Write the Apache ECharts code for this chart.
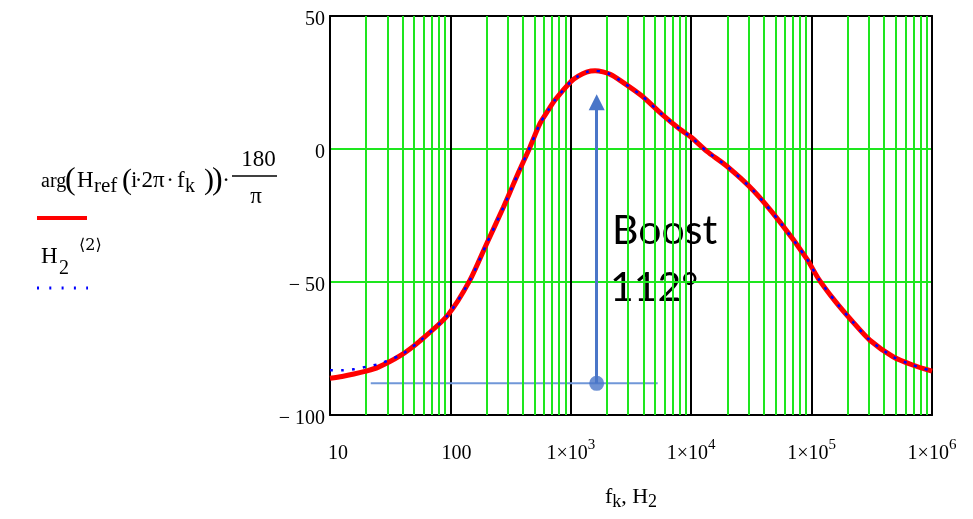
<!DOCTYPE html>
<html>
<head>
<meta charset="utf-8">
<script src="https://cdn.jsdelivr.net/npm/echarts@6/dist/echarts.min.js"></script>
<style>
  html, body { margin: 0; padding: 0; background: #fff; }
  #chart { width: 973px; height: 519px; }
</style>
</head>
<body>
<div id="chart"></div>
<script>
// frequency points (Hz)
const freqs = [10, 12.6, 15.8, 19.9, 25, 38, 56, 95, 145, 200, 275, 333, 378, 458, 555, 650, 739, 1000,
  1153, 1350, 1590, 1850, 2120, 2565, 3880, 5690, 8070, 10000, 13500, 19700, 32800, 54700, 91000, 113800,
  155000, 220000, 305000, 475000, 690000, 1000000];
// phase of H_ref in degrees
const phaseRef = [-86.2, -85.5, -84.6, -83.5, -82.1, -77.8, -72.1, -62.5, -49.4, -35.6, -22, -13.3, -7.6, 0.7, 9.6, 14.6, 18.4, 25.3,
  27.4, 28.9, 29.4, 29.0, 28.1, 25.8, 20, 13.1, 7.4, 4.4, -0.9, -6.4, -15.6, -27.5, -41.2, -48.7,
  -56.9, -65, -71.9, -78.1, -81.2, -83.5];
// H2 column 2 (dotted)
const phaseH2 = [-83.2, -83.2, -82.8, -81.9, -80.9, -77.6, -72.1, -62.5, -49.4, -35.6, -22, -13.3, -7.6, 0.7, 9.6, 14.6, 18.4, 25.3,
  27.4, 28.9, 29.4, 29.0, 28.1, 25.8, 20, 13.1, 7.4, 4.4, -0.9, -6.4, -15.6, -27.5, -41.2, -48.7,
  -56.9, -65, -71.9, -78.1, -81.2, -83.5];

// boost annotation
const boostFreq = 1640;
const boostLow = -88.1;
const boostHigh = 17.6;
const baseFrom = 21.8;
const baseTo = 5270;

// minor log grid 2..9 per decade
const decades = [10, 100, 1000, 10000, 100000];
const minorGrid = [];
decades.forEach(d => { for (let m = 2; m <= 9; m++) minorGrid.push(d * m); });

const serif = 'Liberation Serif';
const green = '#1ee61e';
const blue = '#4a76c8';

const chart = echarts.init(document.getElementById('chart'));

function t(text, x, y, size, align) {
  return {
    type: 'text', x: x, y: y,
    style: { text: text, fontFamily: serif, fontSize: size, fill: '#000', verticalAlign: 'middle', align: align || 'left' }
  };
}

const option = {
  animation: false,
  grid: { left: 330, right: 41, top: 16, bottom: 104 },
  xAxis: [{
    type: 'log', logBase: 10, min: 10, max: 1000000,
    axisLine: { show: true, onZero: false, lineStyle: { color: '#000', width: 2 } },
    axisTick: { show: false },
    splitLine: { show: true, lineStyle: { color: '#000', width: 2 } },
    axisLabel: {
      margin: 29, showMinLabel: true, showMaxLabel: true,
      fontFamily: serif, fontSize: 20, color: '#000',
      formatter: function (v) {
        const e = Math.round(Math.log10(v));
        if (e === 1) return '{c|10}';
        if (e === 2) return '{d|100}';
        return '{b|1×10}{s|' + e + '}';
      },
      rich: {
        b: { fontFamily: serif, fontSize: 20, lineHeight: 20, verticalAlign: 'bottom' },
        c: { fontFamily: serif, fontSize: 20, lineHeight: 20, verticalAlign: 'bottom', padding: [0, 0, 0, 16] },
        d: { fontFamily: serif, fontSize: 20, lineHeight: 20, verticalAlign: 'bottom', padding: [0, 0, 0, 12] },
        s: { fontFamily: serif, fontSize: 15, lineHeight: 15, padding: [0, 0, 18, 0] }
      }
    },
    name: 'f{k|k}, H{k|2}',
    nameLocation: 'middle',
    nameGap: 68,
    nameTextStyle: {
      fontFamily: serif, fontSize: 22, color: '#000',
      rich: { k: { fontFamily: serif, fontSize: 18, padding: [10, 0, 0, 0] } }
    }
  }, {
    type: 'log', logBase: 10, min: 10, max: 1000000, position: 'top',
    axisLine: { show: true, onZero: false, lineStyle: { color: '#000', width: 2 } },
    axisTick: { show: false }, axisLabel: { show: false }, splitLine: { show: false }
  }],
  yAxis: [{
    type: 'value', min: -100, max: 50, interval: 50,
    axisLine: { show: true, onZero: false, lineStyle: { color: '#000', width: 2 } },
    axisTick: { show: false },
    splitLine: { show: true, showMinLine: false, showMaxLine: false, lineStyle: { color: green, width: 2 } },
    axisLabel: {
      margin: 5, color: '#000',
      formatter: v => '{a|' + (v < 0 ? '\u2212 ' + (-v) : '' + v) + '}',
      rich: { a: { fontFamily: serif, fontSize: 20, lineHeight: 20, padding: [8, 0, 0, 0] } }
    }
  }, {
    type: 'value', min: -100, max: 50, interval: 50, position: 'right',
    axisLine: { show: true, onZero: false, lineStyle: { color: '#000', width: 2 } },
    axisTick: { show: false }, axisLabel: { show: false }, splitLine: { show: false }
  }],
  series: [
    {
      type: 'line', data: [], z: 1, silent: true,
      markLine: {
        silent: true, symbol: ['none', 'none'], label: { show: false },
        lineStyle: { color: green, width: 2, type: 'solid' },
        data: minorGrid.map(v => ({ xAxis: v }))
      }
    },
    {
      type: 'line', z: 3, silent: true,
      data: [[baseFrom, boostLow], [baseTo, boostLow]],
      showSymbol: false, lineStyle: { color: '#7097d8', width: 2 }
    },
    {
      type: 'scatter', z: 4, silent: true,
      data: [[boostFreq, boostLow]],
      symbolSize: 15, itemStyle: { color: blue },
      markLine: {
        silent: true, symbol: ['none', 'triangle'], symbolSize: [16, 16], label: { show: false },
        lineStyle: { color: blue, width: 3, type: 'solid' },
        data: [[{ coord: [boostFreq, boostLow] }, { coord: [boostFreq, boostHigh] }]]
      }
    },
    {
      type: 'line', z: 5, silent: true,
      data: freqs.map((f, i) => [f, phaseRef[i]]),
      smooth: 0.25, showSymbol: false,
      lineStyle: { color: '#ff0000', width: 5 }
    },
    {
      type: 'line', z: 6, silent: true,
      data: freqs.map((f, i) => [f, phaseH2[i]]),
      smooth: 0.25, showSymbol: false,
      lineStyle: { color: '#0000ff', width: 2.5, type: [3, 8] }
    }
  ],
  graphic: [
    // boost label
    { type: 'text', x: 612, y: 231, style: { text: 'Boost', fontFamily: 'Lato', fontSize: 41, fill: '#000', verticalAlign: 'middle' } },
    { type: 'text', x: 610, y: 288, style: { text: '112°', fontFamily: 'Lato', fontSize: 41, fill: '#000', verticalAlign: 'middle' } },
    // legend: first expression
    t('arg', 41, 181.7, 20),
    t('(', 65, 181, 32),
    t('H', 77, 180.7, 23),
    t('ref', 94, 186.4, 21),
    t('(', 122, 181, 30),
    t('i', 131, 180.7, 23),
    t('\u00b7', 138.5, 180.7, 23, 'center'),
    t('2\u03c0', 141.5, 180.7, 23),
    t('\u00b7', 170, 180.7, 23, 'center'),
    t('f', 177, 180.7, 23),
    t('k', 185, 186.4, 20),
    t(')', 204, 181, 30),
    t(')', 212, 181, 32),
    t('\u00b7', 226, 180.7, 23, 'center'),
    { type: 'line', shape: { x1: 232, y1: 176, x2: 277, y2: 176 }, style: { stroke: '#000', lineWidth: 1.5 } },
    t('180', 258.5, 159.7, 23, 'center'),
    t('\u03c0', 256, 197.4, 23, 'center'),
    { type: 'line', shape: { x1: 37, y1: 218, x2: 87, y2: 218 }, style: { stroke: '#ff0000', lineWidth: 4 } },
    // legend: second expression
    t('H', 41, 257.4, 23),
    t('2', 59, 268.4, 20),
    { type: 'text', x: 79, y: 245.7, style: { text: '\u27e82\u27e9', fontFamily: 'DejaVu Serif', fontSize: 16, fill: '#000', verticalAlign: 'middle' } },
    { type: 'line', shape: { x1: 37, y1: 288, x2: 88, y2: 288 }, style: { stroke: '#0000ff', lineWidth: 3, lineDash: [2, 10.3] } }
  ]
};

chart.setOption(option);
</script>
</body>
</html>
